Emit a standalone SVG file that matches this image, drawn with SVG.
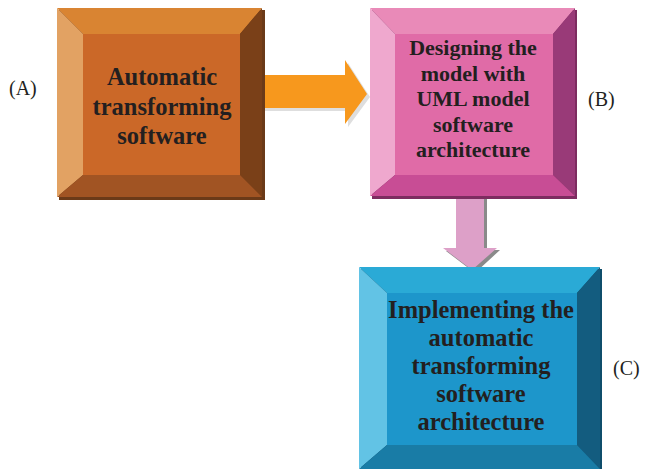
<svg xmlns="http://www.w3.org/2000/svg" width="645" height="469" viewBox="0 0 645 469">
<style>
.t{font-family:"Liberation Serif","Times New Roman",serif;font-weight:bold;font-size:24.5px;fill:#231F20;text-anchor:middle}
.tb{font-size:22px}
.l{font-family:"Liberation Serif","Times New Roman",serif;font-size:20px;fill:#231F20}
</style>
<rect width="645" height="469" fill="#fff"/>
<g id="connectors">
<polygon fill="#bdbdbd" points="265,78 348,78 348,63 370,97 348,127 348,111 265,111" opacity="0.5"/>
<polygon fill="#F7981D" points="263,75 345,75 345,60 367,94 345,124 345,108 263,108"/>
<polygon fill="#8a8a8a" points="459,199 487,199 487,250 500,250 475,273 446,251 459,251"/>
<polygon fill="#DDA0C8" points="456,197 484,197 484,248 497,248 472,270 443,248 456,248"/>
</g>
<g id="nodeA">
<rect x="59" y="10" width="206" height="190" fill="#6b3a18"/>
<polygon fill="#D98432" points="57,8 262,8 240,34 83,34"/>
<polygon fill="#E2A263" points="57,8 83,34 83,175 57,197"/>
<polygon fill="#7A4018" points="262,8 262,197 240,175 240,34"/>
<polygon fill="#A15423" points="57,197 262,197 240,175 83,175"/>
<rect x="83" y="34" width="157" height="141" fill="#CB6828"/>
<text class="t" x="162" y="85">Automatic</text>
<text class="t" x="162" y="114.5">transforming</text>
<text class="t" x="162" y="144">software</text>
</g>
<g id="nodeB">
<rect x="372" y="10" width="205" height="189" fill="#7d2c60"/>
<polygon fill="#E98AB8" points="370,8 575,8 553,34 395,34"/>
<polygon fill="#EFA8CE" points="370,8 395,34 395,175 370,196"/>
<polygon fill="#993A78" points="575,8 575,196 553,175 553,34"/>
<polygon fill="#C84D95" points="370,196 575,196 553,175 395,175"/>
<rect x="395" y="34" width="158" height="141" fill="#E06BA7"/>
<text class="t tb" x="473" y="55">Designing the</text>
<text class="t tb" x="473" y="80.5">model with</text>
<text class="t tb" x="473" y="106">UML model</text>
<text class="t tb" x="473" y="131.5">software</text>
<text class="t tb" x="473" y="157">architecture</text>
</g>
<g id="nodeC">
<rect x="361" y="269" width="241" height="202" fill="#0f4d6b"/>
<polygon fill="#2AAAD6" points="359,267 600,267 577,293 387,293"/>
<polygon fill="#62C3E5" points="359,267 387,293 387,445 359,469"/>
<polygon fill="#135C7F" points="600,267 600,469 577,445 577,293"/>
<polygon fill="#197CA6" points="359,469 600,469 577,445 387,445"/>
<rect x="387" y="293" width="190" height="152" fill="#1D96CB"/>
<text class="t" x="481" y="318">Implementing the</text>
<text class="t" x="481" y="346">automatic</text>
<text class="t" x="481" y="374">transforming</text>
<text class="t" x="481" y="402">software</text>
<text class="t" x="481" y="430">architecture</text>
</g>
<text class="l" x="9" y="95">(A)</text>
<text class="l" x="588" y="106">(B)</text>
<text class="l" x="613" y="375">(C)</text>
</svg>
